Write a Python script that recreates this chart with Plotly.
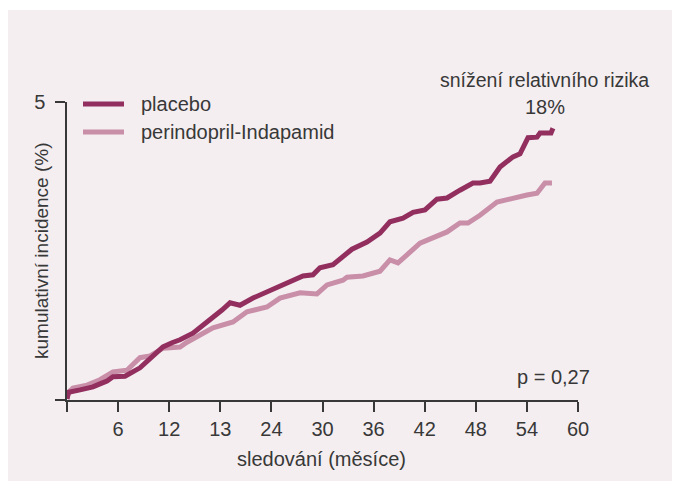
import plotly.graph_objects as go

# ---- data ----
placebo_month = [0, 0.18, 1.53, 3.05, 3.87, 4.7, 5.4, 6.81, 8.57, 9.98, 11.27, 12.33, 13.27, 14.79,
                 15.62, 15.97, 17.14, 18.2, 19.14, 20.31, 21.84, 23.01, 24.19, 25.83, 27.71, 28.88,
                 29.7, 31.23, 32.4, 33.46, 35.22, 36.75, 37.92, 39.45, 40.63, 42.03, 43.44, 44.62,
                 46.14, 47.67, 48.49, 49.67, 50.84, 52.37, 53.19, 54.13, 55.19, 55.54, 56.83, 57.06]
placebo_value = [0.02, 0.13, 0.17, 0.22, 0.27, 0.32, 0.39, 0.40, 0.54, 0.71, 0.89, 0.96, 1.01, 1.12,
                 1.21, 1.26, 1.38, 1.51, 1.63, 1.59, 1.71, 1.78, 1.85, 1.96, 2.08, 2.10,
                 2.22, 2.27, 2.42, 2.53, 2.65, 2.80, 2.99, 3.05, 3.15, 3.19, 3.37, 3.39,
                 3.52, 3.64, 3.64, 3.67, 3.91, 4.08, 4.13, 4.40, 4.41, 4.48, 4.48, 4.56]

perindo_month = [0, 0.18, 0.70, 2.35, 3.87, 5.4, 7.04, 8.57, 9.75, 11.27, 13.27, 14.09, 15.62, 17.14,
                 19.49, 21.13, 23.48, 25.01, 27.36, 29.35, 30.53, 32.4, 32.88, 34.75, 36.75, 37.92,
                 38.86, 41.45, 44.62, 46.14, 47.08, 48.49, 50.49, 52.37, 54.01, 55.19, 56.12, 56.94]
perindo_value = [0.02, 0.13, 0.20, 0.25, 0.34, 0.47, 0.50, 0.71, 0.74, 0.87, 0.89, 0.97, 1.09, 1.21,
                 1.31, 1.48, 1.56, 1.71, 1.80, 1.78, 1.93, 2.01, 2.06, 2.08, 2.16, 2.35,
                 2.30, 2.63, 2.82, 2.97, 2.97, 3.10, 3.32, 3.39, 3.44, 3.47, 3.64, 3.64]

series_names = ["placebo", "perindopril-Indapamid"]
x_tick_vals = [0, 6, 12, 18, 24, 30, 36, 42, 48, 54, 60]
x_tick_text = ["", "6", "12", "13", "24", "30", "36", "42", "48", "54", "60"]
y_tick_vals = [0, 5]
y_tick_text = ["", "5"]

# ---- styling ----
C_PLACEBO = "#922f5f"
C_PERINDO = "#c98ea8"
BG = "#f4eef1"
TXT = "#383838"
FONT = "Liberation Sans"

# page is shown with an 8px body margin, so the figure is 8px smaller
W, H = 672, 475
L, R, T, B = 59, 102, 94, 83
PW, PH = W - L - R, H - T - B
PL, PB = 67, 400  # page position of plot-area left / bottom


def px(x):
    return (x - PL) / PW


def py(y):
    return (PB - y) / PH


fig = go.Figure()
fig.add_trace(go.Scatter(x=perindo_month, y=perindo_value, mode="lines",
                         line=dict(color=C_PERINDO, width=5), name=series_names[1],
                         showlegend=False))
fig.add_trace(go.Scatter(x=placebo_month, y=placebo_value, mode="lines",
                         line=dict(color=C_PLACEBO, width=5), name=series_names[0],
                         showlegend=False))

shapes = [
    dict(type="rect", xref="paper", yref="paper", x0=px(8), x1=px(690), y0=py(481), y1=py(10),
         fillcolor=BG, line=dict(width=0), layer="below"),
    dict(type="line", xref="paper", yref="paper", x0=px(83), x1=px(124), y0=py(104), y1=py(104),
         line=dict(color=C_PLACEBO, width=5)),
    dict(type="line", xref="paper", yref="paper", x0=px(83), x1=px(124), y0=py(132), y1=py(132),
         line=dict(color=C_PERINDO, width=5)),
]

annotations = [
    dict(text=series_names[0], xref="paper", yref="paper", x=px(139), y=py(104),
         xanchor="left", yanchor="middle", showarrow=False),
    dict(text=series_names[1], xref="paper", yref="paper", x=px(139), y=py(132),
         xanchor="left", yanchor="middle", showarrow=False),
    dict(text="snížení relativního rizika", xref="paper", yref="paper", x=px(544), y=py(80),
         xanchor="center", yanchor="middle", showarrow=False, font=dict(size=19.5)),
    dict(text="18%", xref="paper", yref="paper", x=px(545), y=py(107),
         xanchor="center", yanchor="middle", showarrow=False),
    dict(text="p = 0,27", xref="paper", yref="paper", x=px(592), y=py(377),
         xanchor="right", yanchor="middle", showarrow=False),
    dict(text="sledování (měsíce)", xref="paper", yref="paper", x=px(321), y=py(459),
         xanchor="center", yanchor="middle", showarrow=False),
    dict(text="kumulativní incidence (%)", xref="paper", yref="paper", x=px(41), y=py(251),
         xanchor="center", yanchor="middle", showarrow=False, textangle=-90,
         font=dict(size=19)),
]

fig.update_layout(
    width=W, height=H,
    margin=dict(l=L, r=R, t=T, b=B),
    paper_bgcolor="white",
    plot_bgcolor="rgba(0,0,0,0)",
    font=dict(family=FONT, size=20, color=TXT),
    shapes=shapes,
    annotations=annotations,
    showlegend=False,
    xaxis=dict(range=[0, 60], tickvals=x_tick_vals, ticktext=x_tick_text,
               ticks="outside", ticklen=10, tickwidth=1.5, tickcolor=TXT,
               showline=True, linecolor=TXT, linewidth=1.5, showgrid=False, zeroline=False,
               tickfont=dict(size=20)),
    yaxis=dict(range=[0, 5], tickvals=y_tick_vals, ticktext=y_tick_text,
               ticks="outside", ticklen=10, tickwidth=1.5, tickcolor=TXT,
               showline=True, linecolor=TXT, linewidth=1.5, showgrid=False, zeroline=False,
               ticklabelstandoff=6, tickfont=dict(size=20)),
)

fig.write_html("out.html")
